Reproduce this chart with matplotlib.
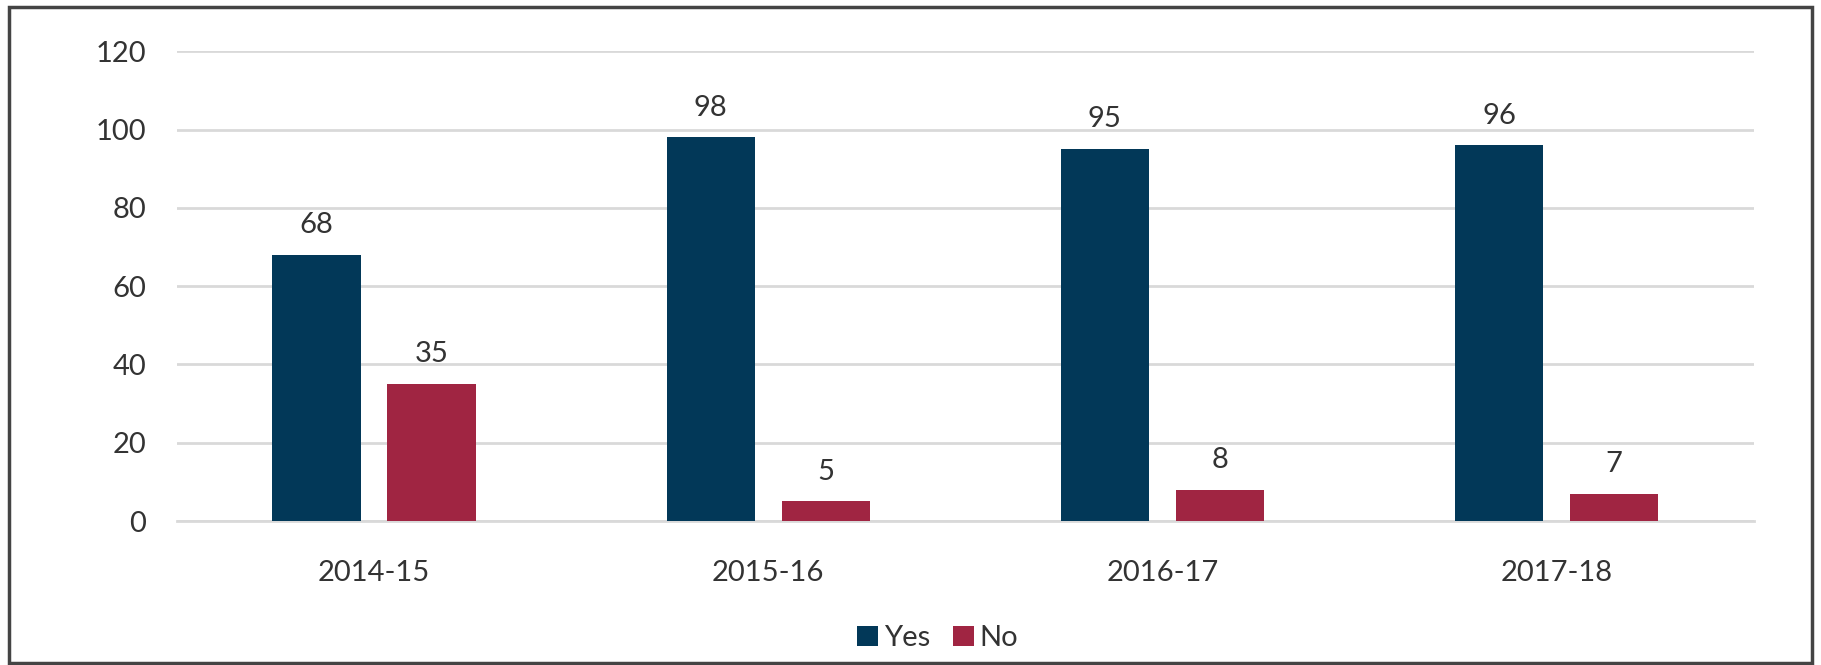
import numpy as np
import matplotlib.pyplot as plt
from matplotlib.patches import Rectangle

years = ['2014-15', '2015-16', '2016-17', '2017-18']
yes_vals = [68, 98, 95, 96]
no_vals = [35, 5, 8, 7]

yes_color = '#023858'
no_color = '#a02542'
text_color = '#333333'

plt.rcParams['font.family'] = ['Lato', 'DejaVu Sans']

fig = plt.figure(figsize=(18.21, 6.65), dpi=100)
ax = fig.add_axes([0.0972, 0.2165, 0.8658, 0.7065])

x = np.arange(len(years))
w = 0.224
off = 0.146
b1 = ax.bar(x - off, yes_vals, w, color=yes_color, label='Yes', zorder=3)
b2 = ax.bar(x + off, no_vals, w, color=no_color, label='No', zorder=3)

for bars in (b1, b2):
    for rect in bars:
        h = rect.get_height()
        ax.annotate('%d' % h, (rect.get_x() + rect.get_width() / 2, h),
                    xytext=(0, 12), textcoords='offset points',
                    ha='center', va='bottom', fontsize=21, color=text_color)

ax.set_xlim(-0.5, len(years) - 0.5)
ax.set_ylim(0, 120)
ax.set_yticks(range(0, 121, 20))
ax.set_xticks(x)
ax.set_xticklabels(years)
ax.grid(axis='y', color='#d9d9d9', linewidth=2, zorder=0)
ax.tick_params(axis='both', length=0, labelsize=21, labelcolor=text_color)
ax.tick_params(axis='x', pad=28)
ax.tick_params(axis='y', pad=22)
for s in ['top', 'right', 'left']:
    ax.spines[s].set_visible(False)
ax.spines['bottom'].set_color('#d9d9d9')
ax.spines['bottom'].set_linewidth(2)

fig.legend(handles=[b1, b2], labels=['Yes', 'No'], loc='center',
           bbox_to_anchor=(0.515, 0.04), ncol=2, frameon=False,
           fontsize=21, handlelength=0.7, handleheight=0.7,
           handletextpad=0.2, columnspacing=0.8, labelcolor=text_color)

fig.patches.append(Rectangle((0.005, 0.003), 0.99, 0.987, transform=fig.transFigure,
                             fill=False, edgecolor='#444444', linewidth=2.5))

fig.savefig('out.png', dpi=100)
